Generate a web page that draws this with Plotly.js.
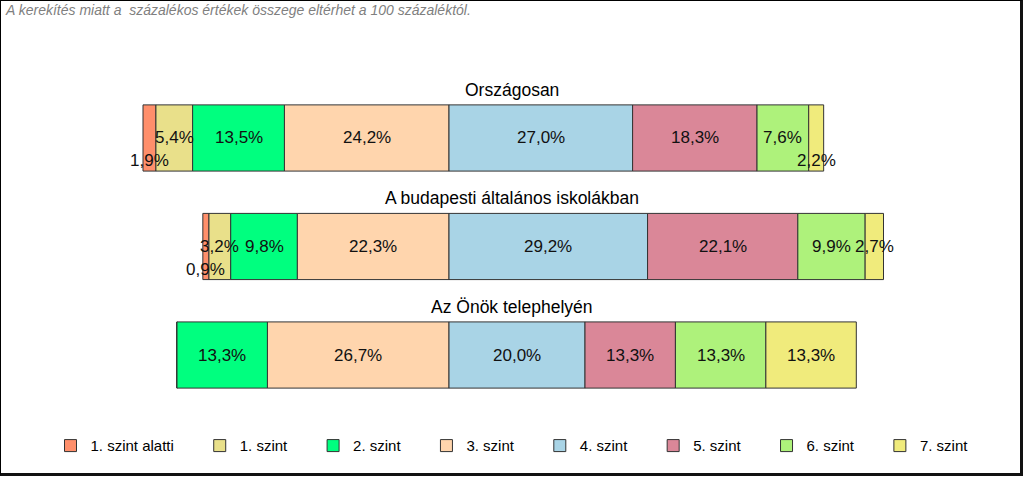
<!DOCTYPE html>
<html>
<head>
<meta charset="utf-8">
<script src="https://cdn.plot.ly/plotly-3.0.1.min.js"></script>
<style>
  html, body { margin: 0; padding: 0; background: #fff; }
  #wrap { position: relative; width: 1024px; height: 478px; }
  #chart { width: 1024px; height: 478px; }
  #frame { position: absolute; left: 0; top: 0; width: 1019px; height: 472px;
           border-top: 1px solid #000; border-left: 1px solid #000;
           border-right: 3px solid #111; border-bottom: 3px solid #111;
           pointer-events: none; }
</style>
</head>
<body>
<div id="wrap">
  <div id="chart"></div>
  <div id="frame"></div>
</div>
<script>
// ---- data ----
const categories = ['Országosan', 'A budapesti általános iskolákban', 'Az Önök telephelyén'];
const levelNames = ['1. szint alatti', '1. szint', '2. szint', '3. szint', '4. szint', '5. szint', '6. szint', '7. szint'];
const szintAlatti = [1.9, 0.9, 0.0];
const szint1 = [5.4, 3.2, 0.0];
const szint2 = [13.5, 9.8, 13.3];
const szint3 = [24.2, 22.3, 26.7];
const szint4 = [27.0, 29.2, 20.0];
const szint5 = [18.3, 22.1, 13.3];
const szint6 = [7.6, 9.9, 13.3];
const szint7 = [2.2, 2.7, 13.3];
const levelColors = ['#FF8F6B', '#E9E08A', '#00FF7F', '#FFD5AD', '#A9D4E6', '#DA8798', '#AEF27B', '#F0EB7C'];
const note = 'A kerekítés miatt a&nbsp; százalékos értékek összege eltérhet a 100 százaléktól.';

const series = [szintAlatti, szint1, szint2, szint3, szint4, szint5, szint6, szint7];

// bases: levels 0..3 to the left of zero, 4..7 to the right
const bases = series.map((vals, i) => vals.map((v, c) => {
  if (i <= 3) {
    let s = 0;
    for (let k = i; k <= 3; k++) s += series[k][c];
    return -s;
  } else {
    let s = 0;
    for (let k = 4; k < i; k++) s += series[k][c];
    return s;
  }
}));

const fontFam = 'Liberation Sans, Arial, sans-serif';
const legendPad = '&nbsp;&nbsp;&nbsp;&nbsp;&nbsp;';
const traces = series.map((vals, i) => ({
  type: 'bar',
  orientation: 'h',
  name: levelNames[i] + (i < series.length - 1 ? legendPad : ''),
  y: categories,
  x: vals,
  base: bases[i],
  width: 0.61,
  marker: { color: levelColors[i], line: { color: '#333', width: 1 } },
  hoverinfo: 'skip'
}));

const annotations = [];
series.forEach((vals, i) => {
  vals.forEach((v, c) => {
    if (v <= 0) return;
    annotations.push({
      x: bases[i][c] + v / 2, y: categories[c], xref: 'x', yref: 'y',
      text: v.toFixed(1).replace('.', ',') + '%',
      showarrow: false,
      font: { family: fontFam, size: 17, color: '#111' },
      yshift: v < 2.5 ? -23 : 0
    });
  });
});
categories.forEach(cat => {
  annotations.push({
    x: 0.5, xref: 'paper', y: cat, yref: 'y', text: cat, showarrow: false,
    yshift: 48, font: { family: fontFam, size: 17.5, color: '#000' }
  });
});
annotations.push({
  x: 0, xref: 'paper', xanchor: 'left', xshift: -7,
  y: 1, yref: 'paper', yanchor: 'middle', yshift: 30,
  text: '<i>' + note + '</i>', showarrow: false,
  font: { family: fontFam, size: 14, color: '#7f7f7f' }
});

const layout = {
  width: 1024, height: 478,
  margin: { l: 10, r: 10, t: 40, b: 58 },
  paper_bgcolor: '#fff', plot_bgcolor: '#fff',
  barmode: 'overlay',
  showlegend: true,
  legend: {
    orientation: 'h', x: 0.5, xanchor: 'center', y: -0.068, yanchor: 'middle',
    font: { family: fontFam, size: 15, color: '#000' },
    traceorder: 'normal'
  },
  xaxis: { range: [-64.56, 83.09], visible: false, fixedrange: true },
  yaxis: { type: 'category', categoryarray: categories, range: [2.599, -0.903], visible: false, fixedrange: true },
  annotations: annotations
};

Plotly.newPlot('chart', traces, layout, { displayModeBar: false, staticPlot: true });
</script>
</body>
</html>
